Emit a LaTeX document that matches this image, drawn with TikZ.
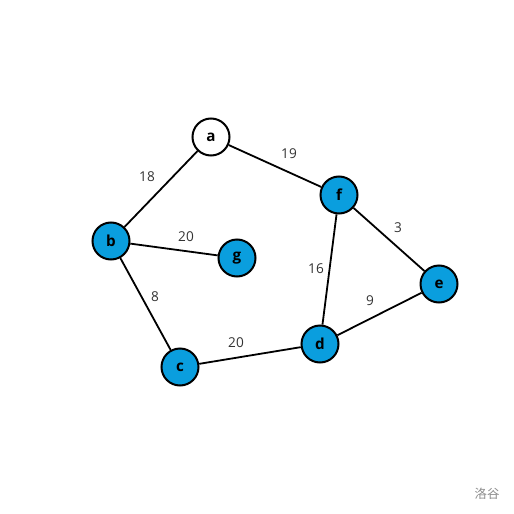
\documentclass[tikz,border=0pt]{standalone}
\usepackage{fontspec}
\setmainfont{Open Sans}
\newfontfamily\cjk{Noto Sans CJK SC}
\definecolor{nodeblue}{RGB}{10,158,222}
\definecolor{lbl}{RGB}{51,51,51}
\begin{document}
\begin{tikzpicture}[x=0.5pt,y=-0.5pt,
  vtx/.style={circle,draw=black,line width=1pt,minimum size=18.5pt,inner sep=0pt,fill=nodeblue,font=\fontsize{7.6}{8}\selectfont\bfseries},
  vtxw/.style={vtx,fill=white},
  edge/.style={draw=black,line width=0.9pt},
  wt/.style={text=lbl,font=\fontsize{6.8}{8}\selectfont,inner sep=0pt}]
\useasboundingbox (0,0) rectangle (514,514);
\fill[white] (0,0) rectangle (514,514);
\node[vtxw] (a) at (211,137) {a};
\node[vtx] (b) at (111,241) {b};
\node[vtx] (g) at (237,258) {g};
\node[vtx] (f) at (339,195) {f};
\node[vtx] (e) at (439,284) {e};
\node[vtx] (d) at (320,344) {d};
\node[vtx] (c) at (180,367) {c};
\draw[edge] (a) -- (b);
\draw[edge] (a) -- (f);
\draw[edge] (b) -- (g);
\draw[edge] (b) -- (c);
\draw[edge] (c) -- (d);
\draw[edge] (d) -- (f);
\draw[edge] (d) -- (e);
\draw[edge] (f) -- (e);
\node[wt] (w1) at (147,177) {18};
\node[wt] (w2) at (289,154) {19};
\node[wt] (w3) at (186,237) {20};
\node[wt] (w4) at (155,297) {8};
\node[wt] (w5) at (316,269) {16};
\node[wt] (w6) at (398,228) {3};
\node[wt] (w7) at (370,301) {9};
\node[wt] (w8) at (236,343) {20};
\node[text=black!45,font=\cjk\fontsize{6.2}{7}\selectfont,inner sep=0pt] (wm) at (487,494) {洛谷};
\end{tikzpicture}
\end{document}
